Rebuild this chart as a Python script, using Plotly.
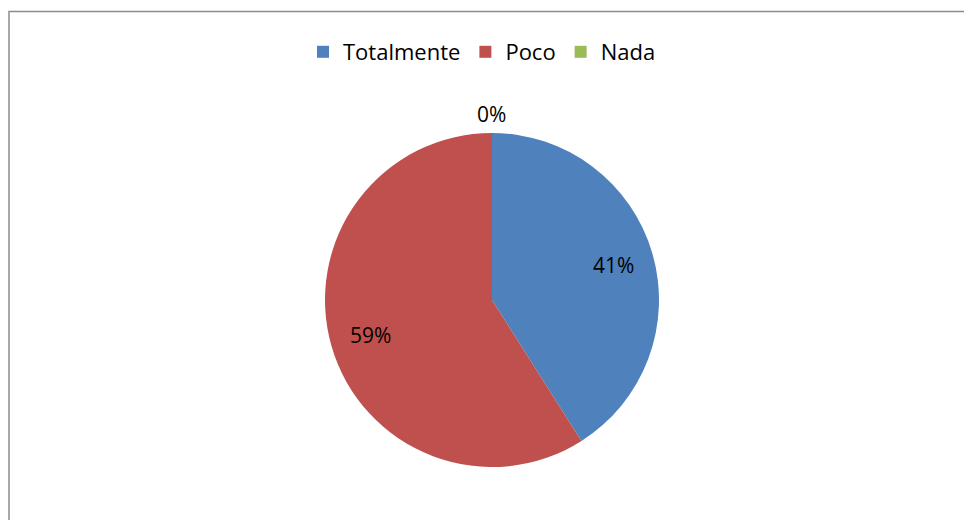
import math

import plotly.graph_objects as go

# ── Data ─────────────────────────────────────────────────────────────
labels = ["Totalmente", "Poco", "Nada"]
values = [41, 59, 0]
colors = ["#4F81BD", "#C0504D", "#9BBB59"]

W, H = 964, 520
FONT = "Open Sans, Liberation Sans, Arial, sans-serif"
FS = 21

# Pie geometry (pixels)
CX, CY, R = 492, 300, 167
LABEL_R = 0.76   # inside labels sit at this fraction of the radius
OUT_GAP = 19     # empty slices get their label this far outside the rim

fig = go.Figure(
    go.Pie(
        labels=labels,
        values=values,
        marker=dict(colors=colors, line=dict(width=0)),
        sort=False,
        direction="clockwise",
        rotation=0,
        textinfo="none",
        domain=dict(x=[(CX - R) / W, (CX + R) / W],
                    y=[(H - CY - R) / H, (H - CY + R) / H]),
        showlegend=True,
        hoverinfo="label+percent",
    )
)

# ── Percentage labels at the slice mid-angles ───────────────────────
total = sum(values)
cum = 0.0
for v in values:
    mid = (cum + v / 2) / total * 2 * math.pi  # clockwise from 12 o'clock
    r = LABEL_R * R if v > 0 else R + OUT_GAP
    px = CX + r * math.sin(mid)
    py = CY - r * math.cos(mid)
    fig.add_annotation(
        x=px / W, y=(H - py) / H, xref="paper", yref="paper",
        text=f"{v / total * 100:.0f}%", showarrow=False,
        font=dict(family=FONT, size=FS, color="#000000"),
        xanchor="center", yanchor="middle",
    )
    cum += v

# chart-area border (cut off on the right and bottom in the original)
fig.add_shape(
    type="rect", xref="paper", yref="paper",
    x0=9 / W, x1=1.02, y0=-0.02, y1=(H - 11.5) / H,
    line=dict(color="#8c8c8c", width=1.5),
    fillcolor="rgba(0,0,0,0)",
)

fig.update_layout(
    width=W,
    height=H,
    margin=dict(l=0, r=0, t=0, b=0),
    paper_bgcolor="white",
    plot_bgcolor="white",
    font=dict(family=FONT, size=FS, color="#000000"),
    legend=dict(
        orientation="h",
        x=0.5, xanchor="center",
        y=(H - 52) / H, yanchor="middle",
        font=dict(family=FONT, size=22, color="#000000"),
        itemwidth=30,
        traceorder="normal",
    ),
)

# drop the default body margin so the figure sits flush in the window
fig.write_html(
    "out.html",
    config={"displayModeBar": False},
    post_script="document.body.style.margin='0';document.body.style.overflow='hidden';",
)
